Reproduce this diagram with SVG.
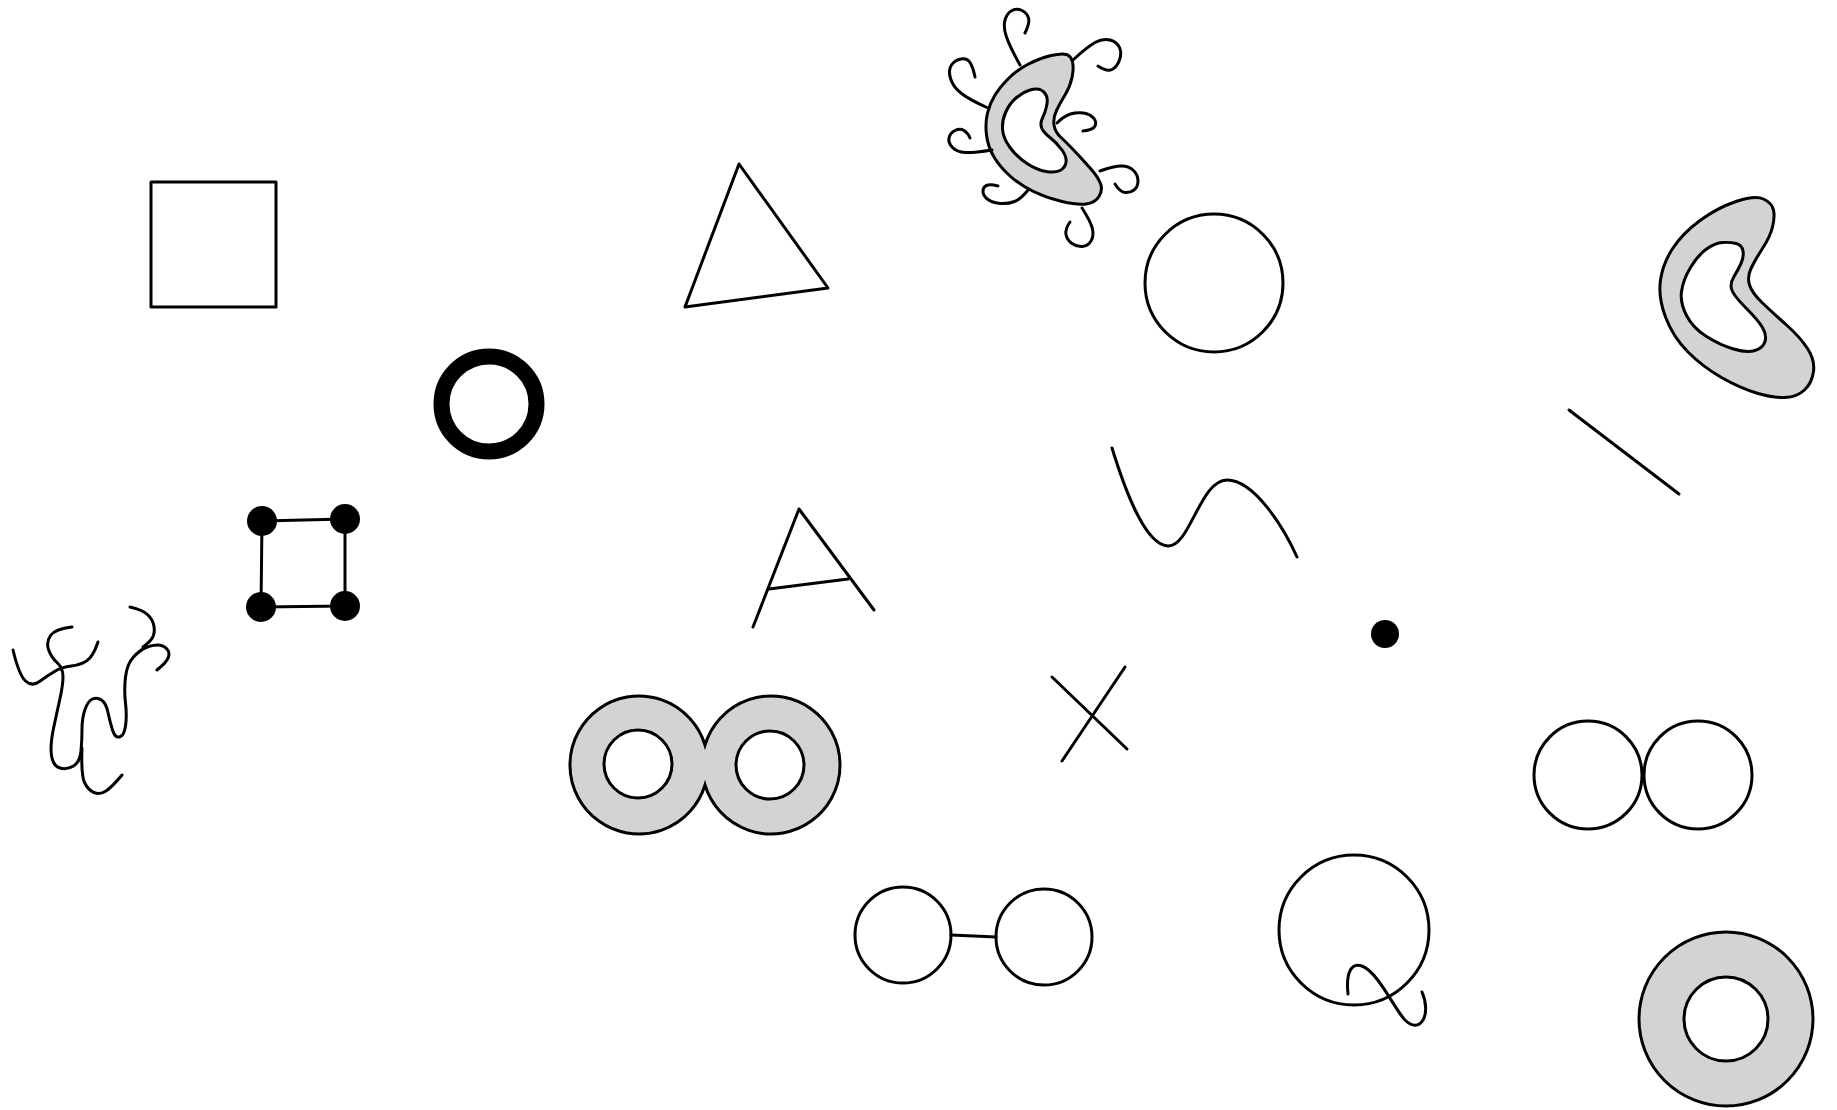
<svg xmlns="http://www.w3.org/2000/svg" width="1837" height="1110" viewBox="0 0 1837 1110">
<style>
.s{fill:none;stroke:#000;stroke-width:3;stroke-linecap:round;stroke-linejoin:round}
.g{fill:#d3d3d3;fill-rule:evenodd;stroke:#000;stroke-width:3}
.d{fill:#000}
</style>
<rect width="1837" height="1110" fill="#fff"/>
<g id="square"><rect class="s" x="151" y="182" width="125" height="125"/></g>
<g id="thick-ring"><circle cx="489" cy="404" r="47.5" fill="none" stroke="#000" stroke-width="16"/></g>
<g id="triangle"><polygon class="s" points="739,164 828,288 685,307"/></g>
<g id="curly-blob">
<path class="g" d="M1051,55.5 Q1062,53 1066.5,54.5 Q1071,56 1072.5,62 Q1074,68 1072,77.5 Q1070,87 1065,95 Q1060,103 1056.5,110.5 Q1053,118 1054,125 Q1055,132 1061,137.5 Q1067,143 1075,151.5 Q1083,160 1090.5,168.5 Q1098,177 1100.5,183.5 Q1103,190 1099,196.5 Q1095,203 1086,204 Q1077,205 1062,201.5 Q1047,198 1033.5,191.5 Q1020,185 1010,176 Q1000,167 994,157 Q988,147 986.5,135 Q985,123 987.5,113 Q990,103 995,95 Q1000,87 1008.5,78.5 Q1017,70 1028.5,64 Q1040,58 1051,55.5 Z M1030,90 Q1037,88 1041,90 Q1045,92 1046.5,96 Q1048,100 1046.5,106.5 Q1045,113 1042.5,118 Q1040,123 1041.5,127.5 Q1043,132 1050,137.5 Q1057,143 1062,150 Q1067,157 1066,162.5 Q1065,168 1060,170.5 Q1055,173 1046,171.5 Q1037,170 1027,163.5 Q1017,157 1010,147.5 Q1003,138 1002.5,129 Q1002,120 1006,111.5 Q1010,103 1016.5,97.5 Q1023,92 1030,90 Z"/>
<path class="s" d="M1020,65 Q1010,47 1006.5,37 Q1003,27 1005,20 Q1007,13 1012,10.5 Q1017,8 1022,10.5 Q1027,13 1028.5,18 Q1030,23 1025,33"/>
<path class="s" d="M988,108 Q970,100 961.5,93.5 Q953,87 950.5,78.5 Q948,70 951.5,65 Q955,60 961,59 Q967,58 970,62.5 Q973,67 975,77"/>
<path class="s" d="M992,150 Q973,153 965,152.5 Q957,152 952.5,147.5 Q948,143 949,138 Q950,133 955,130.5 Q960,128 964,130.5 Q968,133 970,138"/>
<path class="s" d="M1028,190 Q1021,199 1014.5,201.5 Q1008,204 1000.5,203.5 Q993,203 988,199.5 Q983,196 983,191.5 Q983,187 986.5,185.5 Q990,184 998,186"/>
<path class="s" d="M1082,208 Q1091,222 1092.5,229 Q1094,236 1091,241 Q1088,246 1082.5,246.5 Q1077,247 1072,243.5 Q1067,240 1066,234.5 Q1065,229 1070,222"/>
<path class="s" d="M1100,171 Q1114,166 1121.5,166 Q1129,166 1133.5,170.5 Q1138,175 1138,181 Q1138,187 1134,190 Q1130,193 1125,192.5 Q1120,192 1115,184"/>
<path class="s" d="M1057,123 Q1064,116 1070.5,114 Q1077,112 1083.5,113 Q1090,114 1093.5,118 Q1097,122 1095,126 Q1093,130 1083,131"/>
<path class="s" d="M1073,60 Q1087,47 1095,42.5 Q1103,38 1110,40 Q1117,42 1119.5,47.5 Q1122,53 1119.5,60 Q1117,67 1112,69.5 Q1107,72 1098,66"/>
</g>
<g id="circle"><circle class="s" cx="1214" cy="283" r="69"/></g>
<g id="kidney">
<path class="g" d="M1736,201.5 Q1755,195 1763.5,199 Q1772,203 1773.5,210 Q1775,217 1772.5,227 Q1770,237 1762.5,248.5 Q1755,260 1751,268.5 Q1747,277 1749.5,285 Q1752,293 1762.5,303 Q1773,313 1786.5,325 Q1800,337 1807.5,348.5 Q1815,360 1813.5,371.5 Q1812,383 1804.5,390 Q1797,397 1785,397.5 Q1773,398 1756.5,393 Q1740,388 1721.5,377.5 Q1703,367 1688,352 Q1673,337 1665.5,317 Q1658,297 1660.5,280 Q1663,263 1673,248 Q1683,233 1700,220.5 Q1717,208 1736,201.5 Z M1722.5,242.5 Q1730,242 1736,243.5 Q1742,245 1743,251 Q1744,257 1741,263.5 Q1738,270 1734,276.5 Q1730,283 1731.5,289 Q1733,295 1745.5,307.5 Q1758,320 1762.5,327.5 Q1767,335 1765,341.5 Q1763,348 1755,350.5 Q1747,353 1733.5,349 Q1720,345 1706.5,336.5 Q1693,328 1686.5,315.5 Q1680,303 1681.5,291.5 Q1683,280 1690.5,267.5 Q1698,255 1706.5,249 Q1715,243 1722.5,242.5 Z"/>
</g>
<g id="line"><line class="s" x1="1569" y1="410" x2="1679" y2="494"/></g>
<g id="s-curve"><path class="s" d="M1112,448 C1125,490 1145,545 1168,546 C1190,547 1200,480 1227,480 C1255,480 1285,530 1297,557"/></g>
<g id="dot-square">
<path class="s" d="M262,521 L345,519 L345,606 L261,607 Z"/>
<circle class="d" cx="262" cy="521" r="15"/>
<circle class="d" cx="345" cy="519" r="15"/>
<circle class="d" cx="261" cy="607" r="15"/>
<circle class="d" cx="345" cy="606" r="15"/>
</g>
<g id="squiggle">
<path class="s" d="M13,650 Q19,675 25.5,681 Q32,687 39.5,681.5 Q47,676 54.5,671.5 Q62,667 71,666 Q80,665 86.5,661 Q93,657 98,642"/>
<path class="s" d="M72,627 Q55,629 50.5,635.5 Q46,642 48.5,649.5 Q51,657 57,662.5 Q63,668 63,676.5 Q63,685 60,698.5 Q57,712 53.5,728.5 Q50,745 51.5,755.5 Q53,766 60,768 Q67,770 73.5,766 Q80,762 81,751 Q82,740 82,729 Q82,718 85,709.5 Q88,701 92.5,699 Q97,697 101.5,700 Q106,703 108,712.5 Q110,722 112.5,730 Q115,738 119.5,737 Q124,736 125.5,726 Q127,716 125.5,703 Q124,690 125.5,677 Q127,664 133.5,657 Q140,650 146,647.5 Q152,645 157.5,645 Q163,645 166.5,648.5 Q170,652 168.5,657 Q167,662 157,670"/>
<path class="s" d="M82,748 Q81,775 84.5,782.5 Q88,790 94,792.5 Q100,795 106,791 Q112,787 122,775"/>
<path class="s" d="M130,607 Q143,610 148,615 Q153,620 154,626.5 Q155,633 152.5,637.5 Q150,642 143,647"/>
</g>
<g id="letter-a">
<path class="s" d="M753,627 L799,509 L874,610 M769,589 L848,579"/>
</g>
<g id="x-mark">
<path class="s" d="M1052,677 L1127,749 M1125,667 L1062,761"/>
</g>
<g id="dot"><circle class="d" cx="1385" cy="634" r="14"/></g>
<g id="infinity">
<path class="g" d="M705,745 A69,69 0 1,0 705,785 A69,69 0 1,0 705,745 Z M672,764 A34,34 0 1,0 604,764 A34,34 0 1,0 672,764 Z M804,765 A34,34 0 1,0 736,765 A34,34 0 1,0 804,765 Z"/>
</g>
<g id="two-circles">
<circle class="s" cx="1588" cy="775" r="54"/>
<circle class="s" cx="1698" cy="775" r="54"/>
</g>
<g id="dumbbell">
<circle class="s" cx="903" cy="935" r="48"/>
<circle class="s" cx="1044" cy="937" r="48"/>
<line class="s" x1="951" y1="935" x2="996" y2="937"/>
</g>
<g id="letter-q">
<circle class="s" cx="1354" cy="930" r="75"/>
<path class="s" d="M1348,994 C1346,975 1350,962 1362,966 C1378,972 1395,1010 1405,1020 C1420,1035 1432,1015 1422,992"/>
</g>
<g id="gray-ring">
<path class="g" d="M1813,1019 A87,87 0 1,0 1639,1019 A87,87 0 1,0 1813,1019 Z M1768,1019 A42,42 0 1,0 1684,1019 A42,42 0 1,0 1768,1019 Z"/>
</g>
</svg>
